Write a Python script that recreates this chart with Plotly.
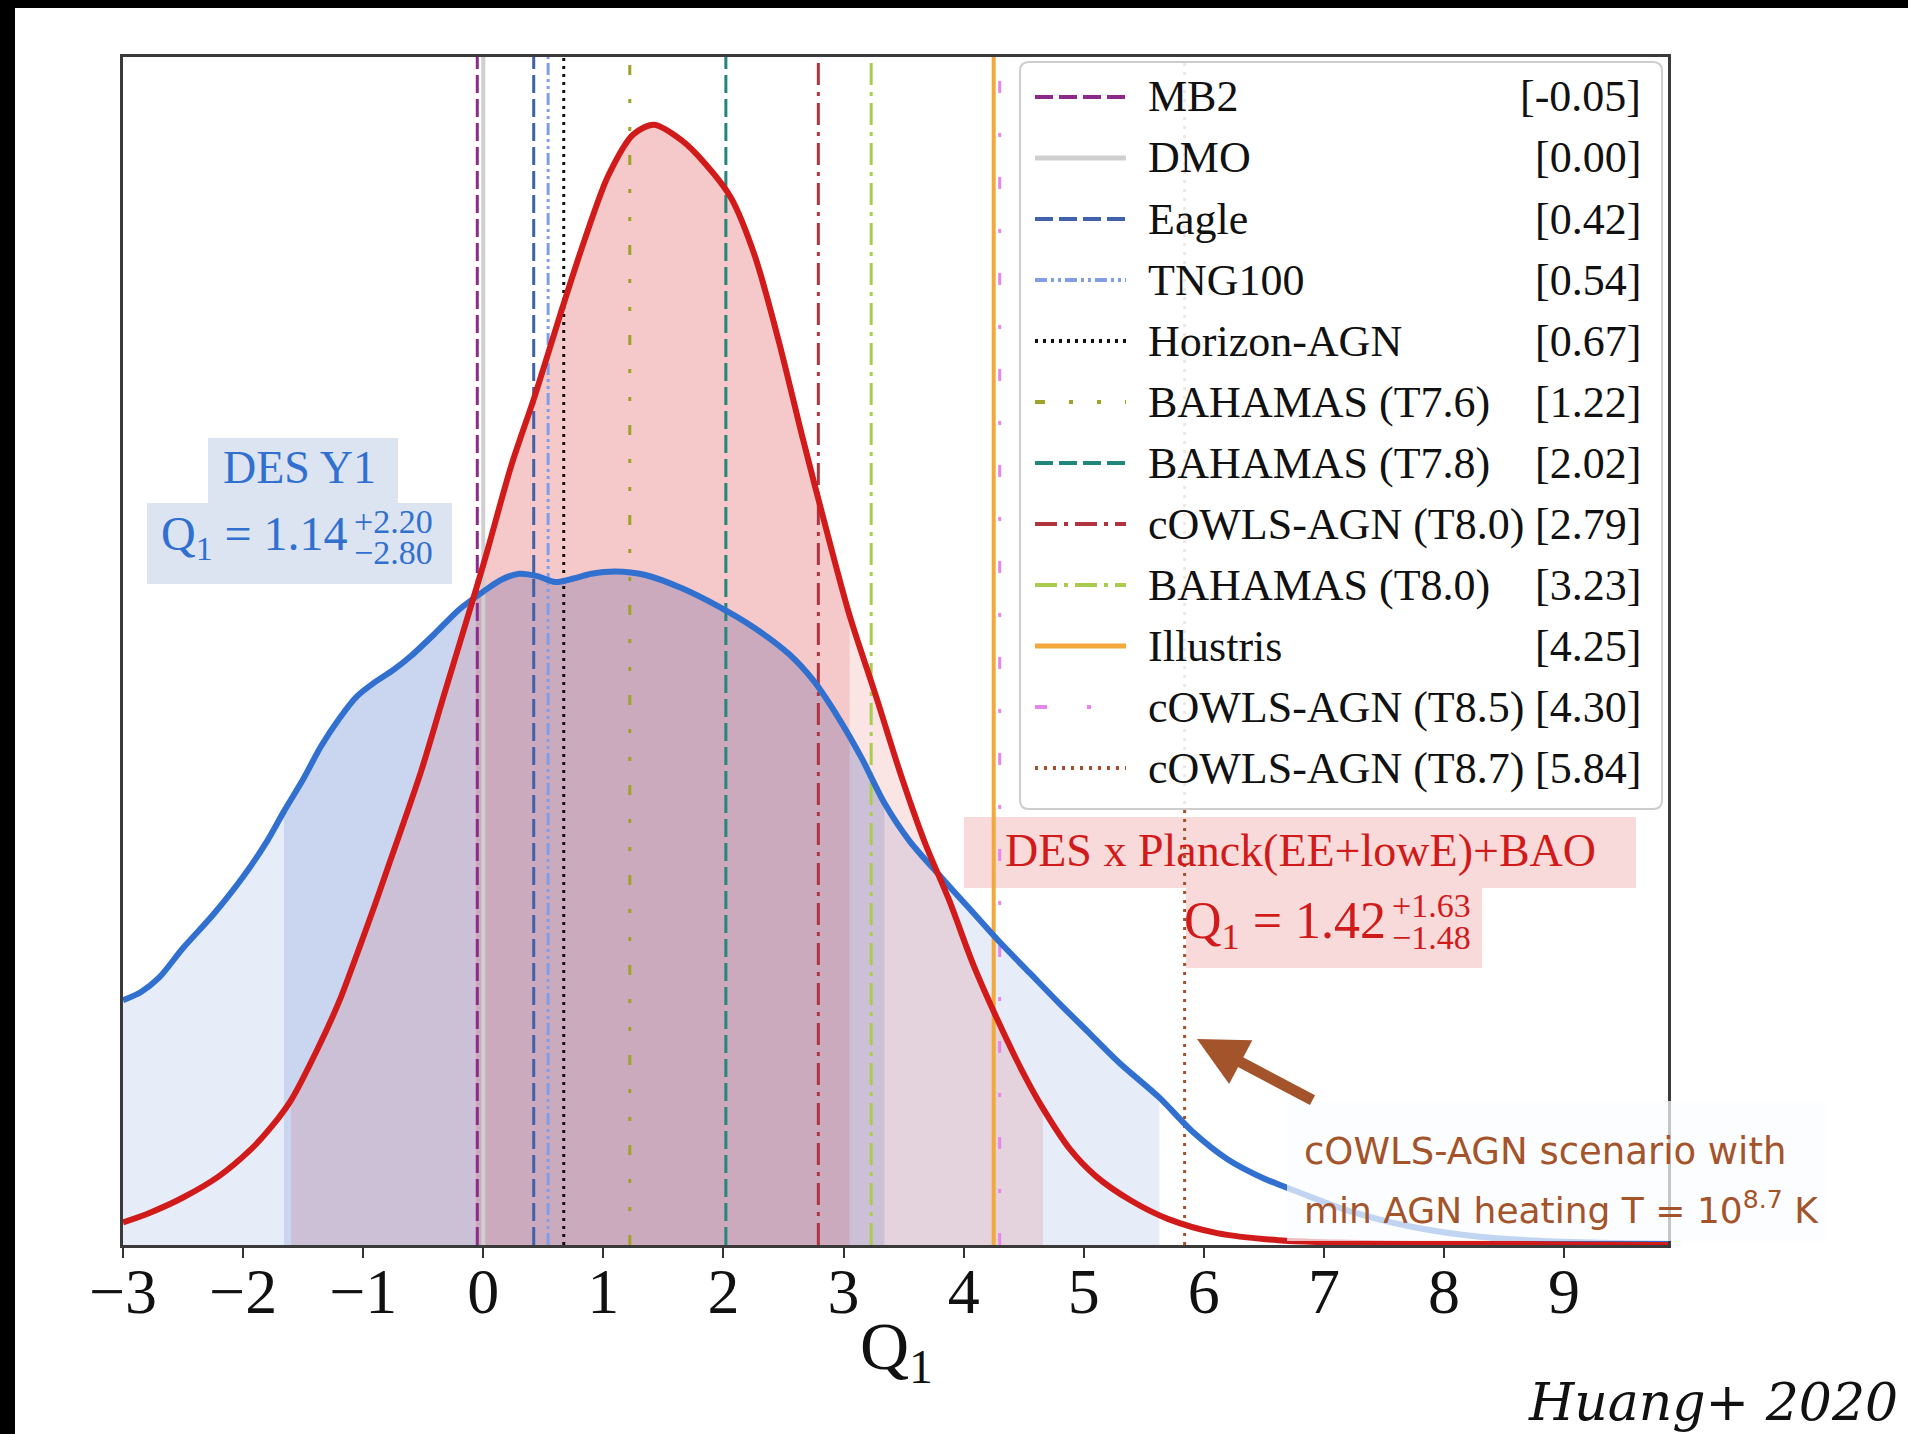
import plotly.graph_objects as go

# ---------------------------------------------------------------
# Posterior of Q1 (arbitrary normalisation, peak of the joint fit ~0.94)
# ---------------------------------------------------------------
q_des = [-3.00, -2.85, -2.70, -2.50, -2.25, -2.00, -1.80, -1.66, -1.50, -1.35,
         -1.20, -1.05, -0.90, -0.75, -0.60, -0.40, -0.20, 0.00, 0.15, 0.30,
         0.45, 0.60, 0.75, 0.90, 1.10, 1.35, 1.65, 1.95, 2.25, 2.55,
         2.75, 2.95, 3.15, 3.34, 3.55, 3.80, 4.05, 4.30, 4.55, 4.80,
         5.05, 5.30, 5.63, 5.90, 6.20, 6.50, 6.80, 7.20, 7.70, 8.20,
         8.70, 9.25, 9.87]
p_des = [0.206, 0.213, 0.225, 0.250, 0.278, 0.310, 0.340, 0.365, 0.392, 0.420,
         0.443, 0.462, 0.474, 0.484, 0.496, 0.515, 0.535, 0.550, 0.560, 0.565,
         0.563, 0.558, 0.561, 0.565, 0.567, 0.564, 0.553, 0.538, 0.520, 0.497,
         0.475, 0.445, 0.410, 0.372, 0.340, 0.311, 0.283, 0.255, 0.229, 0.203,
         0.178, 0.153, 0.124, 0.096, 0.072, 0.056, 0.044, 0.029, 0.016, 0.008,
         0.004, 0.002, 0.001]

q_pl = [-3.00, -2.78, -2.50, -2.20, -1.94, -1.76, -1.60, -1.38, -1.20,
        -1.08, -0.90, -0.80, -0.52, -0.33, -0.06, 0.03, 0.23, 0.43, 0.64,
        0.84, 1.04, 1.25, 1.42, 1.65, 1.85, 2.06, 2.26, 2.46, 2.66,
        2.87, 3.05, 3.27, 3.47, 3.68, 3.88, 4.08, 4.28, 4.49, 4.66,
        4.89, 5.10, 5.40, 5.70, 6.11, 6.62, 7.12, 7.70, 8.30, 9.00, 9.87]
p_pl = [0.019, 0.027, 0.040, 0.058, 0.080, 0.100, 0.122, 0.165, 0.205,
        0.237, 0.287, 0.316, 0.398, 0.462, 0.552, 0.583, 0.655, 0.715, 0.783,
        0.845, 0.900, 0.935, 0.943, 0.930, 0.910, 0.882, 0.833, 0.761, 0.679,
        0.597, 0.530, 0.462, 0.398, 0.338, 0.290, 0.236, 0.190, 0.146, 0.115,
        0.080, 0.058, 0.037, 0.022, 0.010, 0.004, 0.002, 0.001, 0.001, 0.0005, 0.0]

# Quoted constraints (median, +upper, -lower)
des_center, des_plus, des_minus = 1.14, 2.20, 2.80
pl_center, pl_plus, pl_minus = 1.42, 1.63, 1.48
des_hi95 = 5.63
pl_lo95, pl_hi95 = -1.60, 4.66

# Simulation predictions for Q1
models = ["MB2", "DMO", "Eagle", "TNG100", "Horizon-AGN", "BAHAMAS (T7.6)",
          "BAHAMAS (T7.8)", "cOWLS-AGN (T8.0)", "BAHAMAS (T8.0)", "Illustris",
          "cOWLS-AGN (T8.5)", "cOWLS-AGN (T8.7)"]
q1_model = [-0.05, 0.00, 0.42, 0.54, 0.67, 1.22, 2.02, 2.79, 3.23, 4.25, 4.30, 5.84]

x_ticks = list(range(-3, 10))

# line style per model: colour, dash, width
model_styles = [
    ("#8b2a8b", "18px,6px", 3),
    ("#cfcfcf", "solid", 4),
    ("#3f62aa", "18px,6px", 3),
    ("#7f9de8", "12px,4px,3px,4px,3px,4px", 3),
    ("#111111", "3px,5px", 3),
    ("#9ea12a", "10px,24px,4px,24px,4px,24px", 3),
    ("#23867a", "18px,6px", 3),
    ("#b0343f", "22px,7px,4px,7px", 3),
    ("#a9cc4e", "22px,7px,4px,7px", 3),
    ("#f2a83a", "solid", 4),
    ("#e387ea", "12px,40px,4px,40px", 3),
    ("#a4502c", "3px,6px", 3),
]

# ---------------------------------------------------------------
# canvas geometry (pixels) -> paper coordinates
# ---------------------------------------------------------------
W_PX, H_PX = 1908, 1434
L, R, T, B = 123, 1668, 57, 1245


def px(X):
    return (X - L) / (R - L)


def py(Y):
    return (B - Y) / (B - T)


SERIF = "Liberation Serif, Times New Roman, serif"
BLUE = "#3170cf"
RED = "#d11a1a"
BROWN = "#a4542a"

fig = go.Figure()


def band(q, p, lo, hi):
    xs, ys = [], []
    for a, b in zip(q, p):
        if lo - 1e-6 <= a <= hi + 1e-6:
            xs.append(a)
            ys.append(b)
    return xs, ys


def add_fill(q, p, lo, hi, color):
    xs, ys = band(q, p, lo, hi)
    fig.add_trace(go.Scatter(x=xs, y=ys, mode="lines", fill="tozeroy",
                             fillcolor=color, line=dict(width=0),
                             hoverinfo="skip", showlegend=False))


des_lo68, des_hi68 = des_center - des_minus, des_center + des_plus
pl_lo68, pl_hi68 = pl_center - pl_minus, pl_center + pl_plus

# DES Y1 credible regions
add_fill(q_des, p_des, q_des[0], des_lo68, "rgba(60,105,200,0.13)")
add_fill(q_des, p_des, des_lo68, des_hi68, "rgba(60,105,200,0.27)")
add_fill(q_des, p_des, des_hi68, des_hi95, "rgba(60,105,200,0.13)")
# DES x Planck credible regions
add_fill(q_pl, p_pl, pl_lo95, pl_lo68, "rgba(215,30,30,0.12)")
add_fill(q_pl, p_pl, pl_lo68, pl_hi68, "rgba(215,30,30,0.24)")
add_fill(q_pl, p_pl, pl_hi68, pl_hi95, "rgba(215,30,30,0.12)")

# simulation predictions as vertical lines
for name, qv, (col, dash, wid) in zip(models, q1_model, model_styles):
    fig.add_trace(go.Scatter(x=[qv, qv], y=[0, 1], mode="lines",
                             line=dict(color=col, dash=dash, width=wid),
                             name=name, hoverinfo="skip", showlegend=False))

# posterior curves
fig.add_trace(go.Scatter(x=q_des, y=p_des, mode="lines",
                         line=dict(color=BLUE, width=6, shape="spline", smoothing=0.8),
                         name="DES Y1", showlegend=False))
fig.add_trace(go.Scatter(x=q_pl, y=p_pl, mode="lines",
                         line=dict(color=RED, width=6, shape="spline", smoothing=0.8),
                         name="DES x Planck(EE+lowE)+BAO", showlegend=False))

shapes = []
annotations = []


def rect(x0, y0, x1, y1, fill, layer="below", line=None):
    shapes.append(dict(type="rect", xref="paper", yref="paper",
                       x0=px(x0), x1=px(x1), y0=py(y1), y1=py(y0),
                       fillcolor=fill, line=line or dict(width=0), layer=layer))


def text(X, Y, s, size, color="#111111", xanchor="center", family=SERIF):
    annotations.append(dict(x=px(X), y=py(Y), xref="paper", yref="paper", text=s,
                            showarrow=False, xanchor=xanchor, yanchor="middle",
                            font=dict(family=family, size=size, color=color)))


# label boxes
rect(208, 438, 398, 503, "#dce4f2")
rect(147, 503, 452, 584, "#dce4f2")
rect(964, 817, 1636, 888, "#f9dada")
rect(1186, 888, 1482, 968, "#f9dada")

text(299, 468, "DES Y1", 46, BLUE)
text(350, 537, "Q<sub>1</sub> = 1.14", 48, BLUE, xanchor="right")
text(352, 521, "+2.20", 34, BLUE, xanchor="left")
text(352, 552, "\u22122.80", 34, BLUE, xanchor="left")

text(1300, 850, "DES x Planck(EE+lowE)+BAO", 46, RED)
text(1388, 924, "Q<sub>1</sub> = 1.42", 52, RED, xanchor="right")
text(1390, 905, "+1.63", 34, RED, xanchor="left")
text(1390, 937, "\u22121.48", 34, RED, xanchor="left")

# legend panel
lx0, lx1, ly0, ly1, rr = 1020, 1662, 62, 809, 9
path = (f"M {px(lx0 + rr)},{py(ly0)} L {px(lx1 - rr)},{py(ly0)} "
        f"Q {px(lx1)},{py(ly0)} {px(lx1)},{py(ly0 + rr)} "
        f"L {px(lx1)},{py(ly1 - rr)} Q {px(lx1)},{py(ly1)} {px(lx1 - rr)},{py(ly1)} "
        f"L {px(lx0 + rr)},{py(ly1)} Q {px(lx0)},{py(ly1)} {px(lx0)},{py(ly1 - rr)} "
        f"L {px(lx0)},{py(ly0 + rr)} Q {px(lx0)},{py(ly0)} {px(lx0 + rr)},{py(ly0)} Z")
shapes.append(dict(type="path", xref="paper", yref="paper", path=path,
                   fillcolor="rgba(255,255,255,0.86)", line=dict(color="#cdcdcd", width=2),
                   layer="above"))

for i, (name, qv, (col, dash, wid)) in enumerate(zip(models, q1_model, model_styles)):
    yy = 97 + 61 * i
    shapes.append(dict(type="line", xref="paper", yref="paper",
                       x0=px(1035), x1=px(1126), y0=py(yy), y1=py(yy),
                       line=dict(color=col, dash=dash, width=wid + 1), layer="above"))
    text(1146, yy, name, 44, xanchor="left")
    text(1643, yy, f"[{qv:.2f}]", 44, xanchor="right")

# note about the hottest cOWLS-AGN run
rect(1287, 1101, 1825, 1241, "rgba(250,252,255,0.72)", layer="above")
text(1302, 1151, "cOWLS-AGN scenario with", 37, BROWN, xanchor="left",
     family="DejaVu Sans, sans-serif")
text(1302, 1208, "min AGN heating T = 10<sup>8.7</sup> K", 36, BROWN, xanchor="left",
     family="DejaVu Sans, sans-serif")
annotations.append(dict(x=px(1197), y=py(1039), xref="paper", yref="paper",
                        ax=117, ay=62, axref="pixel", ayref="pixel", text="",
                        showarrow=True, arrowhead=2, arrowsize=0.9, arrowwidth=11,
                        arrowcolor=BROWN))

# axis title and citation
text(896, 1350, "Q<sub>1</sub>", 68)
annotations.append(dict(x=px(1900), y=py(1402), xref="paper", yref="paper",
                        text="<i>Huang+ 2020</i>", showarrow=False, xanchor="right",
                        yanchor="middle",
                        font=dict(family="DejaVu Serif, serif", size=52, color="#111111")))

# black slide border on the top and left
rect(0, 0, W_PX, 8, "#000000", layer="above")
rect(0, 0, 15, H_PX, "#000000", layer="above")

fig.update_layout(
    width=W_PX, height=H_PX,
    margin=dict(l=L, r=W_PX - R, t=T, b=H_PX - B),
    paper_bgcolor="white", plot_bgcolor="white",
    showlegend=False,
    shapes=shapes, annotations=annotations,
    xaxis=dict(range=[-3, 9.865], tickmode="array", tickvals=x_ticks,
               ticktext=[f"\u2212{abs(t)}" if t < 0 else str(t) for t in x_ticks],
               ticks="outside", ticklen=10, tickwidth=2, tickcolor="#333333",
               ticklabelstandoff=-22,
               showline=True, mirror=True, linecolor="#3a3a3a", linewidth=3,
               showgrid=False, zeroline=False, layer="below traces",
               tickfont=dict(family=SERIF, size=64, color="#111111")),
    yaxis=dict(range=[0, 1], showticklabels=False, ticks="",
               showline=True, mirror=True, linecolor="#3a3a3a", linewidth=3,
               showgrid=False, zeroline=False, layer="below traces"),
)

fig.write_html("out.html")
